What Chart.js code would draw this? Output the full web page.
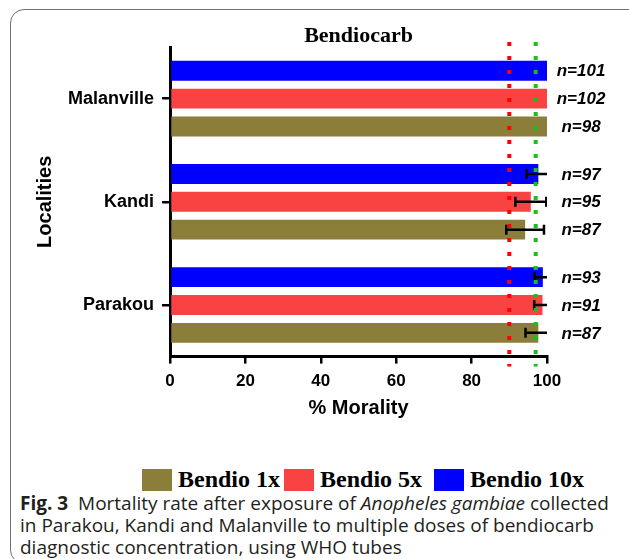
<!DOCTYPE html>
<html>
<head>
<meta charset="utf-8">
<script src="https://cdn.jsdelivr.net/npm/chart.js@4.4.0/dist/chart.umd.min.js"></script>
<style>
  html, body { margin: 0; padding: 0; background: #fff; }
  body { width: 629px; height: 559px; position: relative; overflow: hidden; }
  .frame { position: absolute; left: 10px; top: 9px; width: 700px; height: 555px; border: 1.5px solid #707070; border-radius: 14px; box-sizing: border-box; }
  #mortalityChart { position: absolute; left: 0; top: 0; }
  #legend { position: absolute; left: 142px; top: 466px; display: flex; align-items: center; white-space: nowrap;
            font-family: "Liberation Serif", "Times New Roman", serif; font-weight: bold; font-size: 24px; color: #000; }
  #legend .item { display: flex; align-items: center; margin-right: 4px; }
  #legend .item:nth-child(2) { margin-right: 12px; }
  #legend .box { width: 30px; height: 22px; margin-right: 6px; }
  .caption { position: absolute; left: 20px; top: 492px; font-family: "Open Sans", sans-serif; font-size: 19px; line-height: 22px; color: #231f20; white-space: nowrap; }
</style>
</head>
<body>
<div class="frame"></div>
<canvas id="mortalityChart" width="629" height="423"></canvas>
<div id="legend"></div>
<div class="caption"><b>Fig. 3</b>&nbsp; Mortality rate after exposure of <i>Anopheles gambiae</i> collected<br>in Parakou, Kandi and Malanville to multiple doses of bendiocarb<br>diagnostic concentration, using WHO tubes</div>
<script>
// Localities (top to bottom)
const localities = ['Malanville', 'Kandi', 'Parakou'];

// % mortality, error (+/-) and sample size per dose
const mortality10x = [100, 97.7, 98.9];
const error10x = [0, 3.1, 2.2];
const n10x = [101, 97, 93];

const mortality5x = [100, 95.7, 98.8];
const error5x = [0, 4.1, 2.2];
const n5x = [102, 95, 91];

const mortality1x = [100, 94.2, 97.7];
const error1x = [0, 5.0, 3.4];
const n1x = [98, 87, 87];

// WHO thresholds shown as dotted lines
const thresholds = [90, 97];
const thresholdColors = ['#ff0000', '#19c019'];

const xTicks = [0, 20, 40, 60, 80, 100];

// error bars, n= labels and the dotted threshold lines
const overlayPlugin = {
  id: 'overlay',
  afterDatasetsDraw(chart) {
    const ctx = chart.ctx;
    const xScale = chart.scales.x;
    const area = chart.chartArea;

    ctx.save();
    ctx.beginPath();
    ctx.rect(area.left, 0, area.right - area.left, chart.height);
    ctx.clip();
    ctx.strokeStyle = '#000';
    ctx.lineWidth = 2.5;
    chart.data.datasets.forEach((ds, di) => {
      const meta = chart.getDatasetMeta(di);
      meta.data.forEach((bar, i) => {
        const err = ds.errors[i];
        if (!err) return;
        const lo = xScale.getPixelForValue(ds.data[i] - err);
        const hi = xScale.getPixelForValue(ds.data[i] + err);
        const y = bar.y;
        ctx.beginPath();
        ctx.moveTo(lo, y); ctx.lineTo(hi, y);
        ctx.moveTo(lo, y - 5); ctx.lineTo(lo, y + 5);
        ctx.moveTo(hi, y - 5); ctx.lineTo(hi, y + 5);
        ctx.stroke();
      });
    });
    ctx.restore();

    ctx.save();
    ctx.lineWidth = 4;
    ctx.setLineDash([4, 10]);
    thresholds.forEach((t, i) => {
      const px = xScale.getPixelForValue(t);
      ctx.strokeStyle = thresholdColors[i];
      ctx.beginPath();
      ctx.moveTo(px, area.top - 5);
      ctx.lineTo(px, area.bottom + 10);
      ctx.stroke();
    });
    ctx.restore();

    ctx.save();
    ctx.fillStyle = '#000';
    ctx.font = 'italic bold 17px "Liberation Sans", Arial, sans-serif';
    ctx.textAlign = 'center';
    ctx.textBaseline = 'middle';
    chart.data.datasets.forEach((ds, di) => {
      const meta = chart.getDatasetMeta(di);
      meta.data.forEach((bar, i) => {
        ctx.fillText('n=' + ds.counts[i], area.right + 34, bar.y + 1);
      });
    });
    ctx.restore();
  }
};

// legend as html, low dose first
const htmlLegendPlugin = {
  id: 'htmlLegend',
  afterUpdate(chart) {
    const el = document.getElementById('legend');
    el.innerHTML = '';
    chart.data.datasets.slice().reverse().forEach(ds => {
      const item = document.createElement('span');
      item.className = 'item';
      const box = document.createElement('span');
      box.className = 'box';
      box.style.background = ds.backgroundColor;
      item.appendChild(box);
      item.appendChild(document.createTextNode(ds.label));
      el.appendChild(item);
    });
  }
};

const ctx = document.getElementById('mortalityChart').getContext('2d');
new Chart(ctx, {
  type: 'bar',
  data: {
    labels: localities,
    datasets: [
      { label: 'Bendio 10x', data: mortality10x, errors: error10x, counts: n10x, backgroundColor: '#0000ff' },
      { label: 'Bendio 5x', data: mortality5x, errors: error5x, counts: n5x, backgroundColor: '#f94343' },
      { label: 'Bendio 1x', data: mortality1x, errors: error1x, counts: n1x, backgroundColor: '#8b7d3a' }
    ]
  },
  options: {
    indexAxis: 'y',
    responsive: false,
    animation: false,
    categoryPercentage: 0.81,
    barPercentage: 0.714,
    layout: { padding: { left: 33, right: 82, top: 0, bottom: 3 } },
    plugins: {
      title: {
        display: true,
        text: 'Bendiocarb',
        fullSize: false,
        color: '#000',
        font: { family: '"Liberation Serif", "Times New Roman", serif', size: 22, weight: 'bold', lineHeight: 1 },
        padding: { top: 25, bottom: 0 }
      },
      legend: { display: false },
      tooltip: { enabled: false }
    },
    scales: {
      x: {
        min: 0,
        max: 100,
        afterBuildTicks: axis => { axis.ticks = xTicks.map(v => ({ value: v })); },
        border: { color: '#000', width: 3 },
        grid: { drawOnChartArea: false, drawTicks: true, tickLength: 7, color: '#000', lineWidth: 2.5 },
        ticks: { color: '#000', padding: 8, font: { family: '"Liberation Sans", Arial, sans-serif', size: 17, weight: 'bold' } },
        title: {
          display: true,
          text: '% Morality',
          color: '#000',
          font: { family: '"Liberation Sans", Arial, sans-serif', size: 20, weight: 'bold' },
          padding: { top: -4, bottom: 0 }
        }
      },
      y: {
        border: { color: '#000', width: 3 },
        grid: { offset: false, drawOnChartArea: false, drawTicks: true, tickLength: 8, color: '#000', lineWidth: 2.5 },
        ticks: { color: '#000', padding: 8, font: { family: '"Liberation Sans", Arial, sans-serif', size: 18, weight: 'bold' } },
        title: {
          display: true,
          text: 'Localities',
          color: '#000',
          font: { family: '"Liberation Sans", Arial, sans-serif', size: 20, weight: 'bold' },
          padding: { top: 0, bottom: 3 }
        }
      }
    }
  },
  plugins: [overlayPlugin, htmlLegendPlugin]
});
</script>
</body>
</html>
